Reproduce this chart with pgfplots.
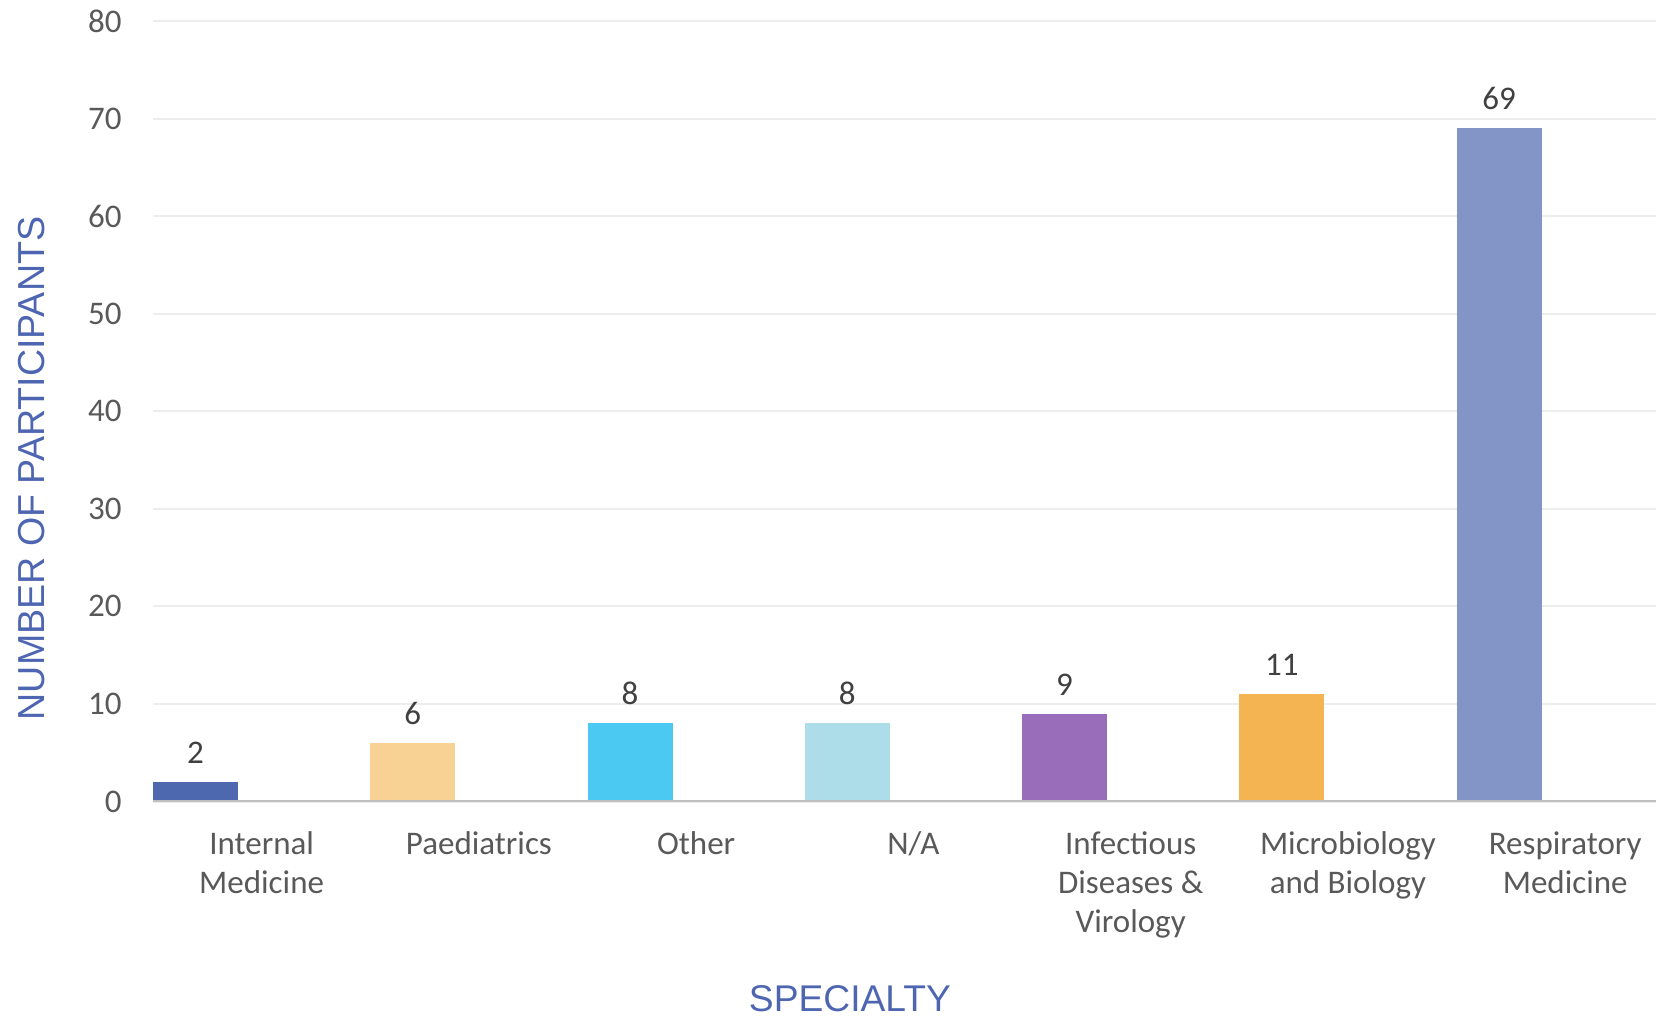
\documentclass[border=0pt]{standalone}
\usepackage{pgfplots}
\pgfplotsset{compat=1.18}
\usepackage{fontspec}
\setmainfont{Carlito}
\newfontfamily\titlefont{Liberation Sans}
\definecolor{cA}{HTML}{4E68B0}
\definecolor{cB}{HTML}{F8D195}
\definecolor{cC}{HTML}{4CC9F3}
\definecolor{cD}{HTML}{ADDDE8}
\definecolor{cE}{HTML}{9A6DBB}
\definecolor{cF}{HTML}{F4B452}
\definecolor{cG}{HTML}{8395C6}
\definecolor{gridc}{HTML}{EDEDED}
\definecolor{axisc}{HTML}{BFBFBF}
\definecolor{tickc}{HTML}{595959}
\definecolor{labc}{HTML}{404040}
\definecolor{titc}{HTML}{4E66B1}
\begin{document}
\begin{tikzpicture}
\begin{axis}[
  scale only axis, width=751.5pt, height=390.25pt,
  xmin=-0.5, xmax=6.418, ymin=0, ymax=80,
  enlargelimits=false,
  ytick={0,10,...,80},
  xtick={0,1,2,3,4,5,6},
  xticklabels={{\rule{0pt}{14pt}Internal\\Medicine},{\rule{0pt}{14pt}Paediatrics},{\rule{0pt}{14pt}Other},{\rule{0pt}{14pt}N/A},{\rule{0pt}{14pt}Infectious\\Diseases \&\\Virology},{\rule{0pt}{14pt}Microbiology\\and Biology},{\rule{0pt}{14pt}Respiratory\\Medicine}},
  ybar, bar width=42.5pt, bar shift=-33.05pt,
  ymajorgrids, grid style={draw=gridc, line width=1pt},
  axis line style={draw=none},
  major tick length=0pt,
  tick style={draw=none},
  /pgf/number format/assume math mode=true,
  tick label style={font=\fontsize{16.5}{19.5}\selectfont, text=tickc},
  yticklabel style={anchor=east, inner sep=0pt, xshift=-15.5pt},
  xticklabel style={anchor=north, inner sep=0pt, align=center, yshift=-12.1pt},
  nodes near coords,
  every node near coord/.append style={font=\fontsize{16.5}{19.5}\selectfont, text=labc, anchor=south, inner sep=0pt, yshift=9pt},
  xlabel={SPECIALTY}, ylabel={NUMBER OF PARTICIPANTS},
  every axis x label/.style={at={([yshift=-105.1pt]axis description cs:0.4637,0)}, anchor=base, font=\titlefont\fontsize{18.6}{21}\selectfont, text=titc},
  every axis y label/.style={at={([xshift=-60.5pt]axis description cs:0,0.4266)}, rotate=90, anchor=center, font=\titlefont\fontsize{18.8}{21}\selectfont, text=titc},
]
\addplot[fill=cA, draw=none, bar shift=-33.05pt] coordinates {(0,2)};
\addplot[fill=cB, draw=none, bar shift=-33.05pt] coordinates {(1,6)};
\addplot[fill=cC, draw=none, bar shift=-33.05pt] coordinates {(2,8)};
\addplot[fill=cD, draw=none, bar shift=-33.05pt] coordinates {(3,8)};
\addplot[fill=cE, draw=none, bar shift=-33.05pt] coordinates {(4,9)};
\addplot[fill=cF, draw=none, bar shift=-33.05pt] coordinates {(5,11)};
\addplot[fill=cG, draw=none, bar shift=-33.05pt] coordinates {(6,69)};
\draw[axisc, line width=1.5pt] (rel axis cs:0,0) -- (rel axis cs:1,0);
\coordinate (bl) at (rel axis cs:0,0);
\coordinate (tr) at (rel axis cs:1,1);
\end{axis}
\pgfresetboundingbox
\useasboundingbox ([shift={(-76.5pt,-107.75pt)}]bl) rectangle ([shift={(0pt,10.5pt)}]tr);
\end{tikzpicture}
\end{document}
